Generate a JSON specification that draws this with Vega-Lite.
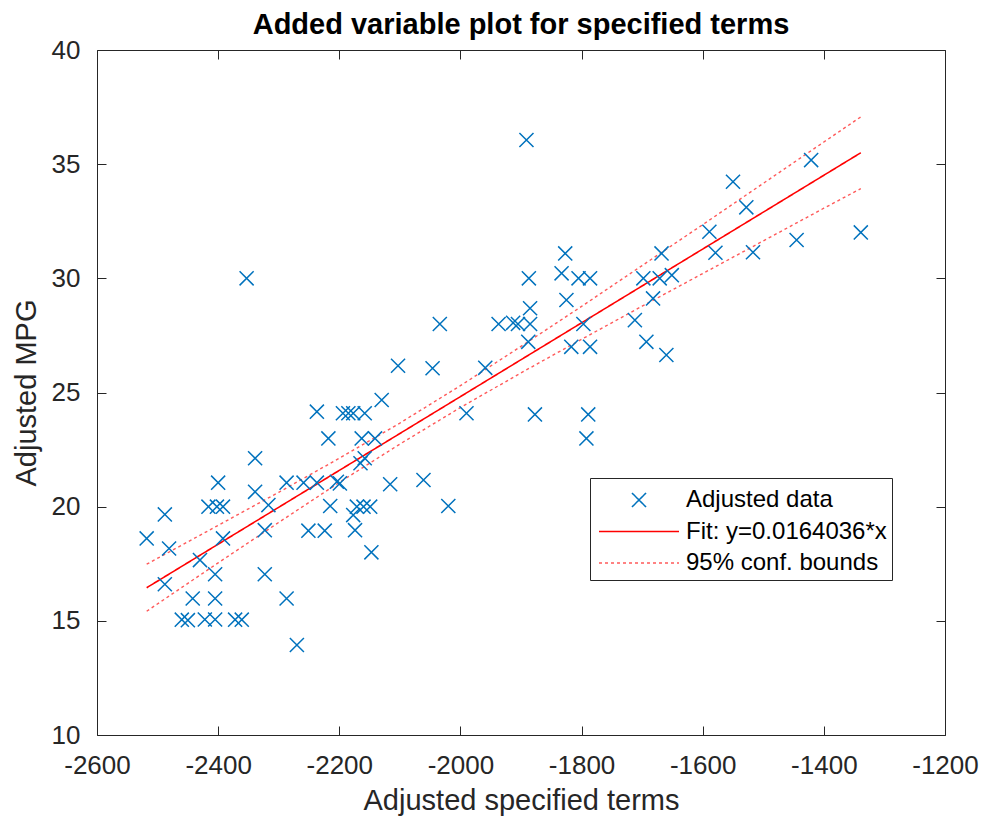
{
  "$schema": "https://vega.github.io/schema/vega-lite/v6.json",
  "width": 848,
  "height": 685,
  "autosize": {"type": "none"},
  "padding": {"left": 97, "top": 50, "right": 52, "bottom": 83},
  "background": "white",
  "title": {"text": "Added variable plot for specified terms", "font": "Liberation Sans", "fontSize": 29, "fontWeight": "bold", "color": "#000000", "anchor": "middle", "offset": -3},
  "config": {
    "view": {"stroke": "#262626", "strokeWidth": 1},
    "axis": {"domain": false, "labelColor": "#262626", "titleColor": "#262626", "labelFont": "Liberation Sans", "titleFont": "Liberation Sans", "labelFontSize": 26, "titleFontSize": 29, "titleFontWeight": "normal", "grid": false, "labelFlush": false, "labelOverlap": false},
    "legend": {"strokeColor": "#262626", "fillColor": "white", "padding": 5, "rowPadding": 2.5, "labelFont": "Liberation Sans", "labelFontSize": 24, "labelColor": "#000000", "labelLimit": 400, "symbolSize": 1024, "symbolStrokeWidth": 1.5, "symbolOffset": 27, "labelOffset": 30, "cornerRadius": 0}
  },
  "datasets": {
    "pts": [
      {"x": -2518, "y": 18.61}, {"x": -2488, "y": 19.66}, {"x": -2481, "y": 18.17}, {"x": -2488, "y": 16.6}, {"x": -2430, "y": 17.66}, {"x": -2405, "y": 17.04}, {"x": -2442, "y": 15.98}, {"x": -2405, "y": 15.98}, {"x": -2460, "y": 15.05}, {"x": -2450, "y": 15.03}, {"x": -2422, "y": 15.06}, {"x": -2405, "y": 15.06}, {"x": -2372, "y": 15.05}, {"x": -2361, "y": 15.05}, {"x": -2400, "y": 21.05}, {"x": -2416, "y": 20.0}, {"x": -2402, "y": 20.0}, {"x": -2392, "y": 20.0}, {"x": -2392, "y": 18.61}, {"x": -2339, "y": 22.12}, {"x": -2339, "y": 20.65}, {"x": -2317, "y": 20.07}, {"x": -2323, "y": 18.97}, {"x": -2323, "y": 17.04}, {"x": -2287, "y": 15.98}, {"x": -2270, "y": 13.94}, {"x": -2287, "y": 21.05}, {"x": -2259, "y": 21.05}, {"x": -2237, "y": 21.05}, {"x": -2251, "y": 18.95}, {"x": -2224, "y": 18.95}, {"x": -2237, "y": 24.16}, {"x": -2218, "y": 22.99}, {"x": -2215, "y": 20.03}, {"x": -2204, "y": 21.09}, {"x": -2199, "y": 21.02}, {"x": -2194, "y": 24.09}, {"x": -2185, "y": 24.09}, {"x": -2177, "y": 24.09}, {"x": -2158, "y": 24.09}, {"x": -2130, "y": 24.67}, {"x": -2163, "y": 22.99}, {"x": -2141, "y": 22.99}, {"x": -2158, "y": 22.12}, {"x": -2165, "y": 21.9}, {"x": -2177, "y": 19.63}, {"x": -2171, "y": 20.0}, {"x": -2160, "y": 20.0}, {"x": -2149, "y": 20.0}, {"x": -2174, "y": 18.97}, {"x": -2147, "y": 18.0}, {"x": -2116, "y": 20.98}, {"x": -2061, "y": 21.17}, {"x": -2020, "y": 20.03}, {"x": -1990, "y": 24.09}, {"x": -2353, "y": 30.0}, {"x": -2034, "y": 28.0}, {"x": -2103, "y": 26.17}, {"x": -2046, "y": 26.06}, {"x": -1959, "y": 26.08}, {"x": -1937, "y": 28.0}, {"x": -1913, "y": 28.05}, {"x": -1905, "y": 28.0}, {"x": -1891, "y": 36.06}, {"x": -1827, "y": 31.09}, {"x": -1887, "y": 30.0}, {"x": -1833, "y": 30.22}, {"x": -1805, "y": 30.0}, {"x": -1786, "y": 30.0}, {"x": -1885, "y": 28.69}, {"x": -1825, "y": 29.05}, {"x": -1885, "y": 28.0}, {"x": -1888, "y": 27.22}, {"x": -1797, "y": 28.0}, {"x": -1817, "y": 27.0}, {"x": -1786, "y": 27.0}, {"x": -1877, "y": 24.04}, {"x": -1789, "y": 24.04}, {"x": -1792, "y": 22.99}, {"x": -1712, "y": 28.17}, {"x": -1693, "y": 27.22}, {"x": -1660, "y": 26.64}, {"x": -1698, "y": 30.0}, {"x": -1671, "y": 30.0}, {"x": -1651, "y": 30.14}, {"x": -1682, "y": 29.12}, {"x": -1668, "y": 31.09}, {"x": -1589, "y": 32.04}, {"x": -1579, "y": 31.12}, {"x": -1550, "y": 34.23}, {"x": -1528, "y": 33.11}, {"x": -1517, "y": 31.14}, {"x": -1445, "y": 31.68}, {"x": -1421, "y": 35.18}, {"x": -1339, "y": 32.01}
    ],
    "bounds": [
      {"x": -2518, "lo": 15.42, "hi": 17.48}, {"x": -2400, "lo": 17.54, "hi": 19.18}, {"x": -2300, "lo": 19.31, "hi": 20.63}, {"x": -2200, "lo": 21.06, "hi": 22.12}, {"x": -2100, "lo": 22.74, "hi": 23.66}, {"x": -2000, "lo": 24.34, "hi": 25.3}, {"x": -1900, "lo": 25.86, "hi": 27.02}, {"x": -1800, "lo": 27.33, "hi": 28.77}, {"x": -1700, "lo": 28.78, "hi": 30.56}, {"x": -1600, "lo": 30.21, "hi": 32.35}, {"x": -1500, "lo": 31.64, "hi": 34.16}, {"x": -1400, "lo": 33.07, "hi": 35.97}, {"x": -1339, "lo": 33.93, "hi": 37.07}
    ]
  },
  "layer": [
    {
      "data": {"name": "bounds"},
      "transform": [{"fold": ["lo", "hi"], "as": ["part", "yb"]}, {"lookup": "part", "from": {"data": {"values": [{"part": "lo", "s": "95% conf. bounds"}, {"part": "hi", "s": "95% conf. bounds"}]}, "key": "part", "fields": ["s"]}}],
      "mark": {"type": "line", "strokeWidth": 1.4, "clip": true},
      "encoding": {
        "x": {"field": "x", "type": "quantitative", "scale": {"domain": [-2600, -1200], "nice": false}, "axis": {"orient": "top", "labels": false, "title": null, "values": [-2600, -2400, -2200, -2000, -1800, -1600, -1400, -1200], "ticks": true, "tickColor": "#262626", "tickWidth": 1, "tickOpacity": 1, "tickSize": 9, "offset": -9, "labelPadding": 0, "zindex": 2}},
        "y": {"field": "yb", "type": "quantitative", "scale": {"domain": [10, 40], "nice": false}, "axis": {"orient": "right", "labels": false, "title": null, "values": [10, 15, 20, 25, 30, 35, 40], "ticks": true, "tickColor": "#262626", "tickWidth": 1, "tickOpacity": 1, "tickSize": 9, "offset": -9, "labelPadding": 0, "zindex": 2}},
        "detail": {"field": "part"},
        "color": {"field": "s", "type": "nominal", "scale": {"domain": ["Adjusted data", "Fit: y=0.0164036*x", "95% conf. bounds"], "range": ["#0072BD", "#FF0000", "#FF5a5a"]}, "legend": {"title": null, "orient": "none", "legendX": 493, "legendY": 428}},
        "strokeDash": {"field": "s", "type": "nominal", "scale": {"domain": ["Adjusted data", "Fit: y=0.0164036*x", "95% conf. bounds"], "range": [[1, 0], [1, 0], [3, 3]]}, "legend": {"title": null, "orient": "none", "legendX": 493, "legendY": 428}}
      }
    },
    {
      "data": {"values": [{"x": -2518, "y": 16.45, "s": "Fit: y=0.0164036*x"}, {"x": -1339, "y": 35.5, "s": "Fit: y=0.0164036*x"}]},
      "mark": {"type": "line", "strokeWidth": 1.6},
      "encoding": {
        "x": {"field": "x", "type": "quantitative", "axis": null},
        "y": {"field": "y", "type": "quantitative", "axis": null},
        "color": {"field": "s", "type": "nominal", "legend": {"title": null, "orient": "none", "legendX": 493, "legendY": 428}},
        "strokeDash": {"field": "s", "type": "nominal", "legend": {"title": null, "orient": "none", "legendX": 493, "legendY": 428}}
      }
    },
    {
      "data": {"name": "pts"},
      "transform": [{"lookup": "x", "from": {"data": {"values": [{"k": 0, "s": "Adjusted data"}]}, "key": "k", "fields": ["s"]}, "default": "Adjusted data"}],
      "mark": {"type": "point", "filled": false, "size": 1024, "strokeWidth": 1.5, "opacity": 1},
      "encoding": {
        "x": {"field": "x", "type": "quantitative", "axis": {"orient": "bottom", "title": "Adjusted specified terms", "values": [-2600, -2400, -2200, -2000, -1800, -1600, -1400, -1200], "labelExpr": "'' + datum.value", "ticks": true, "tickColor": "#262626", "tickWidth": 1, "tickOpacity": 1, "tickSize": 9, "offset": -9, "labelPadding": 17, "titlePadding": 8, "zindex": 2}},
        "y": {"field": "y", "type": "quantitative", "axis": {"orient": "left", "title": "Adjusted MPG", "values": [10, 15, 20, 25, 30, 35, 40], "labelExpr": "'' + datum.value", "ticks": true, "tickColor": "#262626", "tickWidth": 1, "tickOpacity": 1, "tickSize": 9, "offset": -9, "labelPadding": 17, "titlePadding": 10, "zindex": 2}},
        "color": {"field": "s", "type": "nominal", "legend": {"title": null, "orient": "none", "legendX": 493, "legendY": 428}},
        "shape": {"field": "s", "type": "nominal", "scale": {"domain": ["Adjusted data", "Fit: y=0.0164036*x", "95% conf. bounds"], "range": ["M-0.44,-0.44L0.44,0.44M-0.44,0.44L0.44,-0.44", "M-2.5,0L2.5,0", "M-2.5,0L2.5,0"]}, "legend": {"title": null, "orient": "none", "legendX": 493, "legendY": 428}}
      }
    }
  ]
}
